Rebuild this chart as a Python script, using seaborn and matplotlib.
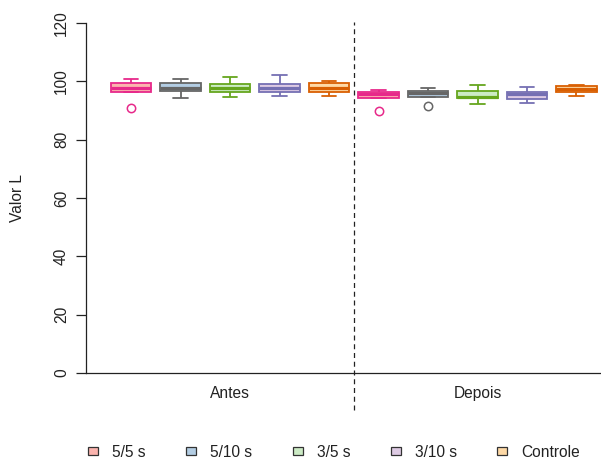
import matplotlib
matplotlib.use("Agg")
import matplotlib.pyplot as plt
from matplotlib.patches import Patch
import numpy as np
import pandas as pd
import seaborn as sns

# Phases and treatments
fases = ["Antes", "Depois"]
tratamentos = ["5/5 s", "5/10 s", "3/5 s", "3/10 s", "Controle"]

# L* values per treatment (min, Q1, median, Q3, max) for each phase
antes_55 = [90.7, 96.2, 97.8, 99.4, 100.8]
antes_510 = [94.3, 96.6, 97.6, 99.4, 100.8]
antes_35 = [94.5, 96.2, 97.8, 99.1, 101.6]
antes_310 = [95.0, 96.2, 97.7, 99.2, 102.3]
antes_ctrl = [95.1, 96.3, 97.8, 99.4, 100.2]

depois_55 = [89.9, 94.4, 95.6, 96.4, 97.0]
depois_510 = [91.6, 94.8, 95.9, 96.8, 97.8]
depois_35 = [92.2, 94.2, 94.8, 96.7, 98.7]
depois_310 = [92.5, 94.1, 95.8, 96.4, 98.2]
depois_ctrl = [95.0, 96.2, 97.3, 98.4, 98.8]

yticks = [0, 20, 40, 60, 80, 100, 120]

fill_colors = ["#FBB4AE", "#B3CDE3", "#CCEBC5", "#DECBE4", "#FED9A6"]
edge_colors = ["#E7298A", "#666666", "#66A61E", "#7570B3", "#D95F02"]

valores = {
    "Antes": [antes_55, antes_510, antes_35, antes_310, antes_ctrl],
    "Depois": [depois_55, depois_510, depois_35, depois_310, depois_ctrl],
}

rows = []
for fase in fases:
    for trat, vals in zip(tratamentos, valores[fase]):
        for v in vals:
            rows.append({"fase": fase, "tratamento": trat, "valor": v})
df = pd.DataFrame(rows)

sns.set_theme(style="ticks")
plt.rcParams["font.family"] = ["Liberation Sans", "DejaVu Sans"]
plt.rcParams["text.color"] = "#222222"
plt.rcParams["axes.labelcolor"] = "#222222"
plt.rcParams["xtick.color"] = "#222222"
plt.rcParams["ytick.color"] = "#222222"

FS = 11.2
fig = plt.figure(figsize=(6.01, 4.61), dpi=100, facecolor="white")
ax = fig.add_axes([86 / 601, 88 / 461, 515 / 601, 350 / 461])

palette = dict(zip(tratamentos, fill_colors))
for trat, fill, edge in zip(tratamentos, fill_colors, edge_colors):
    n_before = len(ax.patches)
    sns.boxplot(
        data=df[df["tratamento"] == trat],
        x="fase", y="valor", hue="tratamento",
        order=fases, hue_order=tratamentos, palette=palette,
        saturation=1, dodge=True, width=1.0, gap=0.19,
        linecolor=edge, linewidth=1.3,
        whis=1.5, legend=False, ax=ax,
        medianprops={"linewidth": 2.3, "color": edge},
        flierprops={"marker": "o", "markerfacecolor": "none",
                    "markeredgecolor": edge, "markersize": 6.0,
                    "markeredgewidth": 1.1},
    )
    for p in ax.patches[n_before:]:
        p.set_facecolor(fill)
        p.set_edgecolor(edge)

# narrower whisker caps
for line in ax.lines:
    xd = np.asarray(line.get_xdata(), dtype=float)
    yd = np.asarray(line.get_ydata(), dtype=float)
    if len(xd) == 2 and yd[0] == yd[1] and xd[0] != xd[1]:
        w = xd[1] - xd[0]
        c = (xd[0] + xd[1]) / 2
        if w < 0.1:
            half = 0.03
            line.set_xdata([c - half, c + half])

ax.set_xlim(-0.582, 1.499)
ax.set_ylim(0, 120)
ax.set_yticks(yticks)
ax.set_yticklabels([str(t) for t in yticks], rotation=90, va="center", fontsize=FS)
ax.tick_params(axis="y", length=7.2, width=0.9, pad=5)
ax.tick_params(axis="x", length=0, pad=9, labelsize=FS)
ax.set_xlabel("")
ax.set_ylabel("Valor L", fontsize=FS)
ax.yaxis.set_label_coords(-0.118, 0.5)

for side in ["top", "right"]:
    ax.spines[side].set_visible(False)
for side in ["left", "bottom"]:
    ax.spines[side].set_linewidth(0.9)
    ax.spines[side].set_color("#222222")

# separator between phases
ax.plot([0.5, 0.5], [-12.8, 120.3], color="#222222", linewidth=0.9,
        linestyle=(0, (4, 3)), clip_on=False, zorder=1)

handles = [Patch(facecolor=f, edgecolor="#333333", linewidth=0.9, label=t)
           for f, t in zip(fill_colors, tratamentos)]
fig.legend(handles=handles, loc="center", ncol=5,
           bbox_to_anchor=(334 / 601, 1 - 452 / 461), frameon=False,
           fontsize=FS, handlelength=0.65, handleheight=0.5,
           handletextpad=0.9, columnspacing=2.6)

fig.savefig("out.png", dpi=100, facecolor="white")
